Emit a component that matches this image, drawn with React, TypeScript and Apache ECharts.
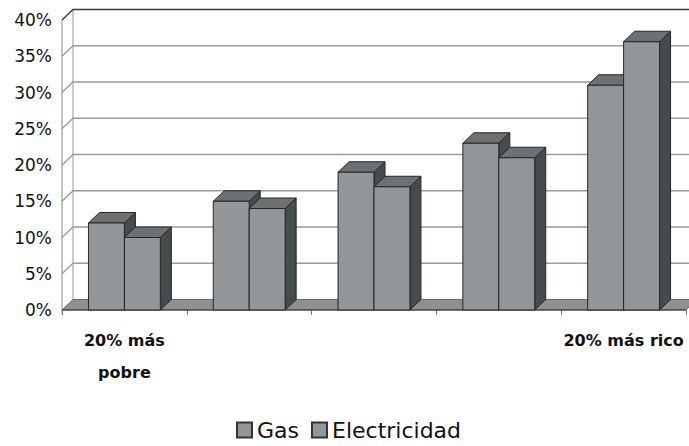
import React, { useEffect, useRef } from 'react';
import * as echarts from 'echarts';

const categories = ['Q1', 'Q2', 'Q3', 'Q4', 'Q5'];
const xTickLabels = ['20% más\npobre', '', '', '', '20% más rico'];
const gas = [12, 15, 19, 23, 31];
const electricidad = [10, 14, 17, 21, 37];
const yTicks = [0, 5, 10, 15, 20, 25, 30, 35, 40];

const DX = 11;
const DY = -10.5;
const FRONT = '#939699';
const TOP = '#6d7173';
const SIDE = '#464b4e';
const EDGE = '#262626';
const FLOOR = '#8e9193';
const FONT = '"Comic Sans MS", "DejaVu Sans", sans-serif';

function barRenderer(side: number) {
  return (params: any, api: any) => {
    const i = api.value(0);
    const v = api.value(1);
    const pt = api.coord([i, v]);
    const cx = pt[0];
    const yTop = pt[1];
    const y0 = api.coord([i, 0])[1];
    const band = api.size([1, 0])[0];
    const bw = band * 0.288;
    const xa = side === 0 ? cx - bw : cx;
    const xb = xa + bw;
    return {
      type: 'group',
      children: [
        {
          type: 'polygon',
          shape: { points: [[xb, yTop], [xb + DX, yTop + DY], [xb + DX, y0 + DY], [xb, y0]] },
          style: { fill: SIDE, stroke: EDGE, lineWidth: 1 },
        },
        {
          type: 'polygon',
          shape: { points: [[xa, yTop], [xa + DX, yTop + DY], [xb + DX, yTop + DY], [xb, yTop]] },
          style: { fill: TOP, stroke: EDGE, lineWidth: 1 },
        },
        {
          type: 'rect',
          shape: { x: xa, y: yTop, width: bw, height: y0 - yTop },
          style: { fill: FRONT, stroke: EDGE, lineWidth: 1 },
        },
      ],
    };
  };
}

function frameRenderer(params: any, api: any) {
  const cs = params.coordSys;
  const x0 = cs.x;
  const x1 = cs.x + cs.width;
  const yb = api.coord([0, 0])[1];
  const ytop = api.coord([0, yTicks[yTicks.length - 1]])[1];
  const children: any[] = [];
  children.push({
    type: 'line',
    shape: { x1: x0, y1: ytop, x2: x0, y2: yb + 3 },
    style: { stroke: '#9a9a9a', lineWidth: 1.2 },
  });
  children.push({
    type: 'line',
    shape: { x1: x0 + DX, y1: ytop + DY, x2: x0 + DX, y2: yb + DY },
    style: { stroke: '#a8a8a8', lineWidth: 1.2 },
  });
  for (const t of yTicks) {
    if (t === 0) continue;
    const y = api.coord([0, t])[1];
    const isTop = t === yTicks[yTicks.length - 1];
    children.push({
      type: 'polyline',
      shape: { points: [[x0, y], [x0 + DX, y + DY], [x1 + DX + 5, y + DY]] },
      style: { stroke: isTop ? '#3a3a3a' : '#9c9c9c', lineWidth: isTop ? 1.3 : 1.4, fill: 'none' },
    });
  }
  children.push({
    type: 'polygon',
    shape: { points: [[x0, yb], [x1, yb], [x1 + DX, yb + DY], [x0 + DX, yb + DY]] },
    style: { fill: FLOOR, stroke: '#555', lineWidth: 0.8 },
  });
  children.push({
    type: 'line',
    shape: { x1: x0, y1: yb, x2: x1, y2: yb },
    style: { stroke: '#333', lineWidth: 1.2 },
  });
  return { type: 'group', children };
}

export default function App() {
  const ref = useRef<HTMLDivElement>(null);
  useEffect(() => {
    if (!ref.current) return;
    const chart = echarts.init(ref.current, undefined, { renderer: 'svg' });
    chart.setOption({
      animation: false,
      backgroundColor: '#ffffff',
      textStyle: { fontFamily: FONT },
      grid: { left: 62, right: 3, top: 20, bottom: 136 },
      legend: {
        data: ['Gas', 'Electricidad'],
        left: 231,
        top: 414,
        icon: 'rect',
        itemWidth: 15,
        itemHeight: 15,
        itemGap: 12,
        textStyle: { fontSize: 22, color: '#111', fontFamily: FONT },
      },
      xAxis: {
        type: 'category',
        data: categories,
        axisLine: { show: false },
        axisTick: { show: true, length: 5, lineStyle: { color: '#777' } },
        axisLabel: {
          interval: 0,
          margin: 14,
          fontSize: 16,
          fontWeight: 'bold',
          color: '#111',
          lineHeight: 32,
          formatter: (_v: string, idx: number) => xTickLabels[idx],
        },
        splitLine: { show: false },
      },
      yAxis: {
        type: 'value',
        min: 0,
        max: 40,
        interval: 5,
        axisLine: { show: false },
        axisTick: { show: false },
        splitLine: { show: false },
        axisLabel: {
          margin: 10,
          fontSize: 17,
          color: '#111',
          formatter: (v: number) => v + '%',
        },
      },
      series: [
        {
          type: 'custom',
          name: 'frame',
          z: 1,
          silent: true,
          data: [[0, 0]],
          renderItem: frameRenderer,
        },
        {
          type: 'custom',
          name: 'Gas',
          z: 2,
          itemStyle: { color: FRONT, borderColor: '#333', borderWidth: 1 },
          data: gas.map((v, i) => [i, v]),
          encode: { x: 0, y: 1 },
          renderItem: barRenderer(0),
        },
        {
          type: 'custom',
          name: 'Electricidad',
          z: 3,
          itemStyle: { color: FRONT, borderColor: '#333', borderWidth: 1 },
          data: electricidad.map((v, i) => [i, v]),
          encode: { x: 0, y: 1 },
          renderItem: barRenderer(1),
        },
      ],
    });
    return () => chart.dispose();
  }, []);
  return (
    <div
      ref={ref}
      style={{ position: 'fixed', left: 0, top: 0, width: 689, height: 446, background: '#fff' }}
    />
  );
}
